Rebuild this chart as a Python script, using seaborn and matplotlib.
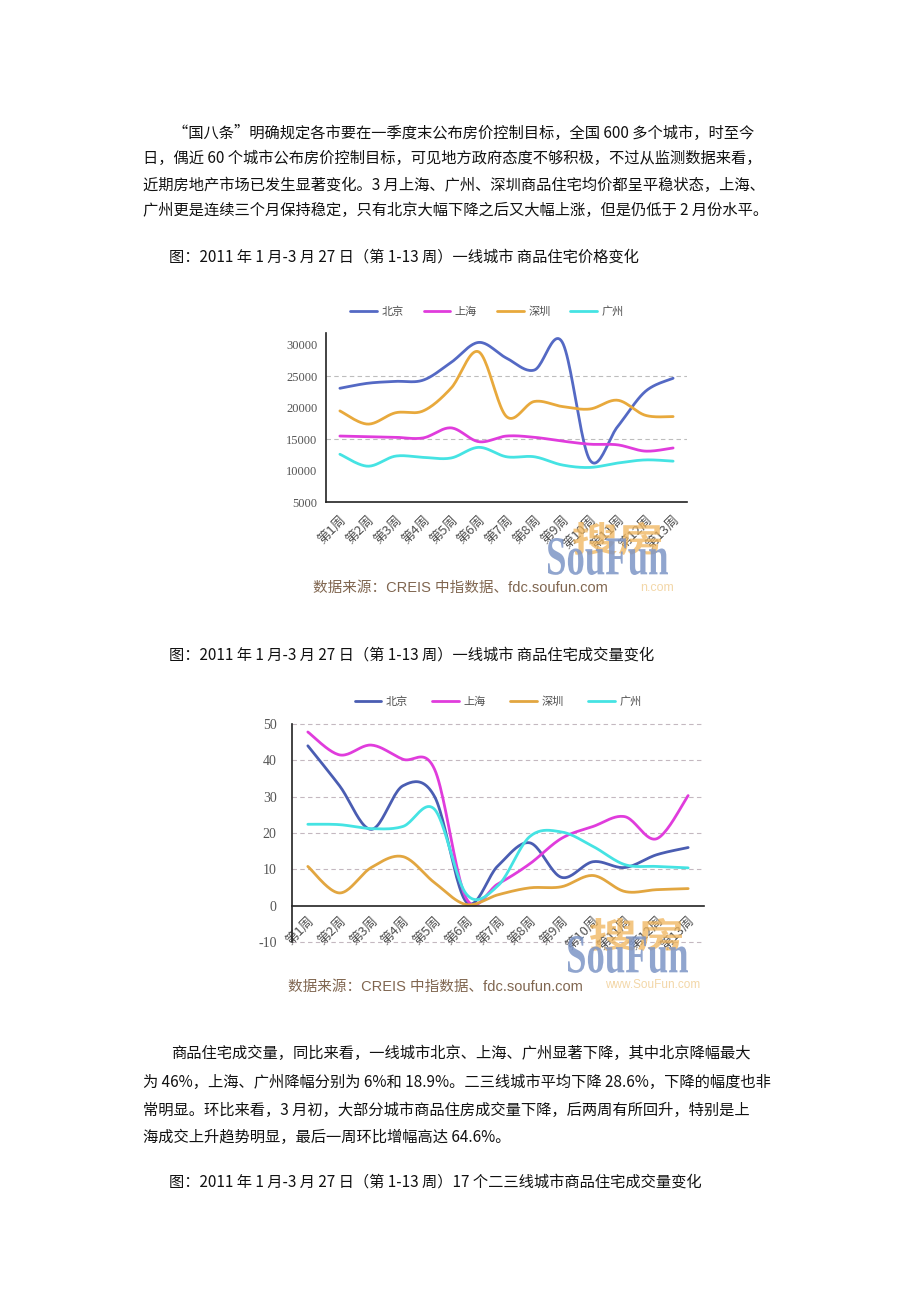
import numpy as np
import pandas as pd
import matplotlib
matplotlib.use('Agg')
import matplotlib.pyplot as plt
import seaborn as sns
from matplotlib.lines import Line2D
from matplotlib.textpath import TextPath
from matplotlib.patches import PathPatch
from matplotlib.font_manager import FontProperties
from matplotlib.transforms import Affine2D

W, H = 920, 1302
CJK = ['Noto Sans CJK SC', 'DejaVu Sans']

# data (weeks 1-13)
weeks = [f'第{i}周' for i in range(1, 14)]
cities = ['北京', '上海', '深圳', '广州']

price_bj = [23100, 23900, 24200, 24400, 27200, 30400, 27900, 26000, 30500, 11700, 17000, 22600, 24700]
price_sh = [15500, 15400, 15300, 15200, 16800, 14600, 15500, 15300, 14700, 14200, 14100, 13100, 13600]
price_sz = [19500, 17400, 19200, 19500, 23100, 28900, 18600, 21000, 20200, 19800, 21200, 18800, 18600]
price_gz = [12600, 10700, 12300, 12100, 12000, 13700, 12200, 12200, 10900, 10500, 11200, 11700, 11500]

vol_bj = [44.0, 33.0, 21.0, 33.0, 30.0, 1.0, 11.0, 17.3, 7.8, 12.1, 10.5, 14.0, 16.0]
vol_sh = [47.8, 41.5, 44.2, 40.3, 37.5, 2.0, 6.0, 11.5, 18.5, 21.8, 24.5, 18.4, 30.3]
vol_sz = [10.8, 3.5, 10.5, 13.5, 6.3, 0.3, 3.0, 4.9, 5.2, 8.3, 3.9, 4.4, 4.7]
vol_gz = [22.4, 22.3, 21.2, 21.8, 26.5, 3.2, 5.5, 19.0, 20.3, 16.3, 11.3, 10.8, 10.4]

price_colors = ['#5469C4', '#E03CDC', '#E8A93C', '#45E3E3']
vol_colors = ['#4A5DB2', '#E03CDC', '#E2A640', '#45E3E3']

para1 = [
    '“国八条”明确规定各市要在一季度末公布房价控制目标，全国 600 多个城市，时至今',
    '日，偶近 60 个城市公布房价控制目标，可见地方政府态度不够积极，不过从监测数据来看，',
    '近期房地产市场已发生显著变化。3 月上海、广州、深圳商品住宅均价都呈平稳状态，上海、',
    '广州更是连续三个月保持稳定，只有北京大幅下降之后又大幅上涨，但是仍低于 2 月份水平。',
]
para2 = [
    '商品住宅成交量，同比来看，一线城市北京、上海、广州显著下降，其中北京降幅最大',
    '为 46%，上海、广州降幅分别为 6%和 18.9%。二三线城市平均下降 28.6%，下降的幅度也非',
    '常明显。环比来看，3 月初，大部分城市商品住房成交量下降，后两周有所回升，特别是上',
    '海成交上升趋势明显，最后一周环比增幅高达 64.6%。',
]
cap1 = '图：2011 年 1 月-3 月 27 日（第 1-13 周）一线城市 商品住宅价格变化'
cap2 = '图：2011 年 1 月-3 月 27 日（第 1-13 周）一线城市 商品住宅成交量变化'
cap3 = '图：2011 年 1 月-3 月 27 日（第 1-13 周）17 个二三线城市商品住宅成交量变化'
source = '数据来源：CREIS 中指数据、fdc.soufun.com'


def smooth(vals, n=24):
    # excel-like smoothed line (bezier through each point)
    p = np.column_stack([np.arange(len(vals), dtype=float), np.asarray(vals, float)])
    out = []
    t = np.linspace(0, 1, n)[:, None]
    for i in range(len(p) - 1):
        p0 = p[i - 1] if i > 0 else p[i]
        p3 = p[i + 2] if i + 2 < len(p) else p[i + 1]
        p1, p2 = p[i], p[i + 1]
        c1 = p1 + (p2 - p0) / 6
        c2 = p2 - (p3 - p1) / 6
        seg = (1 - t) ** 3 * p1 + 3 * (1 - t) ** 2 * t * c1 + 3 * (1 - t) * t ** 2 * c2 + t ** 3 * p2
        out.append(seg if i == 0 else seg[1:])
    out = np.vstack(out)
    return out[:, 0], out[:, 1]


def long_frame(series):
    rows = []
    for city, vals in zip(cities, series):
        xs, ys = smooth(vals)
        rows.append(pd.DataFrame({'x': xs, 'y': ys, 'city': city}))
    return pd.concat(rows, ignore_index=True)


def px_axes(fig, left, right, top, bottom):
    return fig.add_axes([left / W, 1 - bottom / H, (right - left) / W, (bottom - top) / H])


def stamp(fig, s, prop, x0, ytop, w, h, color, alpha, z=1):
    tp = TextPath((0, 0), s, size=1, prop=prop)
    bb = tp.get_extents()
    tr = (Affine2D().translate(-bb.x0, -bb.y0)
          .scale(w / bb.width, h / bb.height)
          .translate(x0, H - ytop - h))
    patch = PathPatch(tp, transform=tr, facecolor=color, edgecolor='none', alpha=alpha, zorder=z)
    fig.add_artist(patch)


def style_axes(ax, ylim, yticks, ysize, ypad, xsize, xpad, zero_axis=False):
    if zero_axis:
        # must come first: moving a spine rebuilds its ticks
        ax.spines['bottom'].set_position(('data', 0))
    ax.set_xlim(-0.5, 12.5)
    ax.set_ylim(*ylim)
    ax.set_yticks(yticks)
    ax.set_yticklabels([str(v) for v in yticks], family='Liberation Serif', fontsize=ysize, color='#555555')
    ax.set_xticks(range(13))
    ax.set_xticklabels(weeks, rotation=45, ha='right', va='top', rotation_mode='anchor',
                       fontsize=xsize, color='#505050', family=CJK)
    ax.set_xticks(np.arange(0.5, 13, 1), minor=True)
    ax.tick_params(axis='x', which='major', length=0, pad=xpad)
    ax.tick_params(axis='x', which='minor', length=3, width=1, direction='in', color='#222222')
    ax.tick_params(axis='y', length=0, pad=ypad)
    for s in ['top', 'right']:
        ax.spines[s].set_visible(False)
    for s in ['left', 'bottom']:
        ax.spines[s].set_color('#222222')
        ax.spines[s].set_linewidth(1.2)
    ax.set_xlabel('')
    ax.set_ylabel('')
    ax.patch.set_alpha(0)


def add_legend(ax, fig, colors, cx, cy, spacing):
    handles = [Line2D([0], [0], color=c, lw=2) for c in colors]
    ax.legend(handles, cities, ncol=4, loc='center', bbox_to_anchor=(cx / W, 1 - cy / H),
              bbox_transform=fig.transFigure, frameon=False, handlelength=2.4,
              handletextpad=0.4, columnspacing=spacing, labelcolor='#505050',
              prop=FontProperties(family=CJK, size=8))


sns.set_theme(style='white')
plt.rcParams['font.family'] = CJK
plt.rcParams['axes.unicode_minus'] = False

fig = plt.figure(figsize=(W / 100, H / 100), dpi=100)
fig.patch.set_facecolor('white')

# page text
for i, line in enumerate(para1):
    x = 173 if i == 0 else 143
    fig.text(x / W, 1 - [133, 158, 185, 210][i] / H, line, fontsize=11, va='center', ha='left', color='#111111')
fig.text(169 / W, 1 - 257 / H, cap1, fontsize=11, va='center', ha='left', color='#111111')
fig.text(169 / W, 1 - 655 / H, cap2, fontsize=11, va='center', ha='left', color='#111111')
for i, line in enumerate(para2):
    x = 171 if i == 0 else 143
    fig.text(x / W, 1 - [1053, 1082, 1110, 1137][i] / H, line, fontsize=11, va='center', ha='left', color='#111111')
fig.text(169 / W, 1 - 1182 / H, cap3, fontsize=11, va='center', ha='left', color='#111111')

# ---- chart 1: price
ax1 = px_axes(fig, 326, 687, 333, 502)
for v in [15000, 25000]:
    ax1.axhline(v, color='#bdbdbd', lw=0.8, ls=(0, (4, 3)), zorder=0)
df1 = long_frame([price_bj, price_sh, price_sz, price_gz])
sns.lineplot(data=df1, x='x', y='y', hue='city', palette=price_colors, sort=False,
             estimator=None, lw=2, legend=False, ax=ax1)
style_axes(ax1, (5000, 31900), list(range(5000, 30001, 5000)), 9, 6, 9.5, 8)
add_legend(ax1, fig, price_colors, 487, 312, 1.8)

# ---- chart 2: volume
ax2 = px_axes(fig, 292, 704, 724, 942)
for v in [-10, 10, 20, 30, 40, 50]:
    ax2.axhline(v, color='#c4b8c0', lw=0.8, ls=(0, (4, 3)), zorder=0, clip_on=False)
df2 = long_frame([vol_bj, vol_sh, vol_sz, vol_gz])
sns.lineplot(data=df2, x='x', y='y', hue='city', palette=vol_colors, sort=False,
             estimator=None, lw=2, legend=False, ax=ax2)
style_axes(ax2, (-10, 50), list(range(-10, 51, 10)), 10, 11, 9.5, 6, zero_axis=True)
add_legend(ax2, fig, vol_colors, 498, 702, 2.2)

# watermark and source lines
src_font = ['Liberation Sans', 'Noto Sans CJK SC']
fig.text(313 / W, 1 - 588 / H, source, fontsize=10.5, family=src_font, color='#806650', va='center')
fig.text(640 / W, 1 - 588 / H, 'n.com', fontsize=9, family=src_font, color='#f3d7a8', va='center')
fig.text(288 / W, 1 - 987 / H, source, fontsize=10.5, family=src_font, color='#806650', va='center')
fig.text(605 / W, 1 - 985 / H, 'www.SouFun.com', fontsize=8.5, family=src_font, color='#f3d7a8', va='center')

serif_b = FontProperties(family='Liberation Serif', weight='bold')
cjk_b = FontProperties(family='Noto Sans CJK SC', weight='bold')
stamp(fig, '搜房', cjk_b, 573, 522, 88, 33, '#F0B45A', 0.75)
stamp(fig, 'SouFun', serif_b, 548, 538, 120, 37, '#7D95C6', 0.85, z=2)
stamp(fig, '搜房', cjk_b, 590, 918, 92, 33, '#F0B45A', 0.75)
stamp(fig, 'SouFun', serif_b, 568, 936, 120, 37, '#7D95C6', 0.85, z=2)

fig.savefig('out.png', dpi=100, facecolor='white')
